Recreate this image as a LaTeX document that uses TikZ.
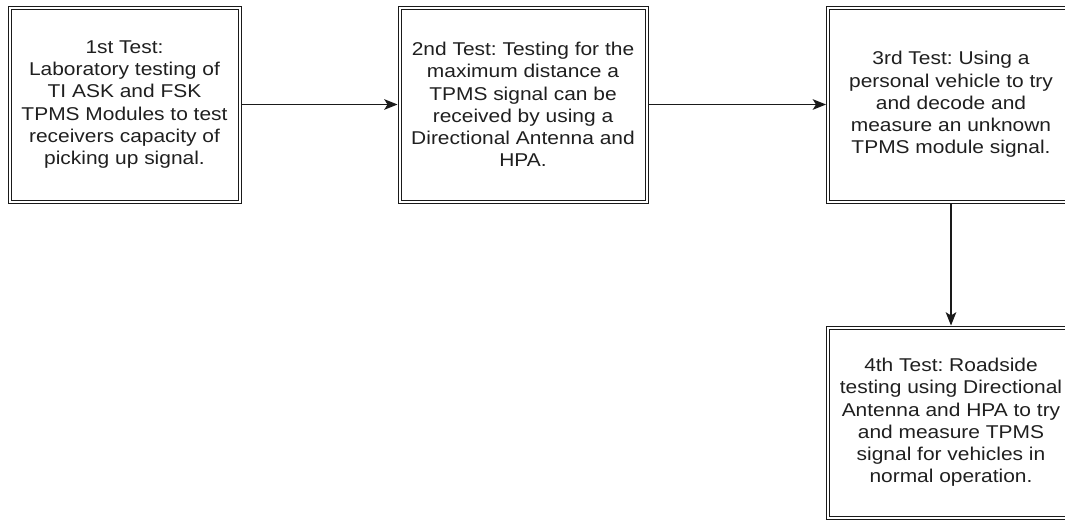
\documentclass[tikz,border=0pt]{standalone}
\usepackage{fontspec}
\setmainfont[FakeStretch=1.13]{Liberation Sans}
\usetikzlibrary{arrows.meta,positioning}
\definecolor{tsInk}{HTML}{1A1A1A}
\definecolor{tsText}{HTML}{1F1F1F}
\frenchspacing

\begin{document}
\begin{tikzpicture}[x=0.75pt, y=-0.75pt,
  testbox/.style={draw=tsInk, line width=0.75pt, double=white, double distance=1.5pt,
    outer sep=1.5pt, inner sep=0pt, minimum height=145.5pt, align=center, text=tsText,
    font=\fontsize{13.9pt}{16.65pt}\selectfont},
  arr/.style={-{Stealth[length=10pt, width=8pt, inset=2.5pt]}, line width=0.9pt, tsInk}]
\useasboundingbox (0,0) rectangle (1065,521);
\node[testbox, minimum width=172.5pt] (t1) at (124.5,104.5)
  {1st Test:\\Laboratory testing of\\TI ASK and FSK\\TPMS Modules to test\\receivers capacity of\\picking up signal.};
\node[testbox, minimum width=185.25pt] (t2) at (523,104.5)
  {2nd Test: Testing for the\\maximum distance a\\TPMS signal can be\\received by using a\\Directional Antenna and\\HPA.};
\node[testbox, minimum width=184.5pt] (t3) at (951,104.5)
  {3rd Test: Using a\\personal vehicle to try\\and decode and\\measure an unknown\\TPMS module signal.};
\node[testbox, minimum width=184.5pt, minimum height=142.5pt] (t4) at (951,422.5)
  {4th Test: Roadside\\testing using Directional\\Antenna and HPA to try\\and measure TPMS\\signal for vehicles in\\normal operation.};
\foreach \a/\b in {t1/t2,t2/t3}{\draw[arr] (\a.east) -- (\b.west);}
\draw[arr] (t3.south) -- (t4.north);
\end{tikzpicture}
\end{document}
